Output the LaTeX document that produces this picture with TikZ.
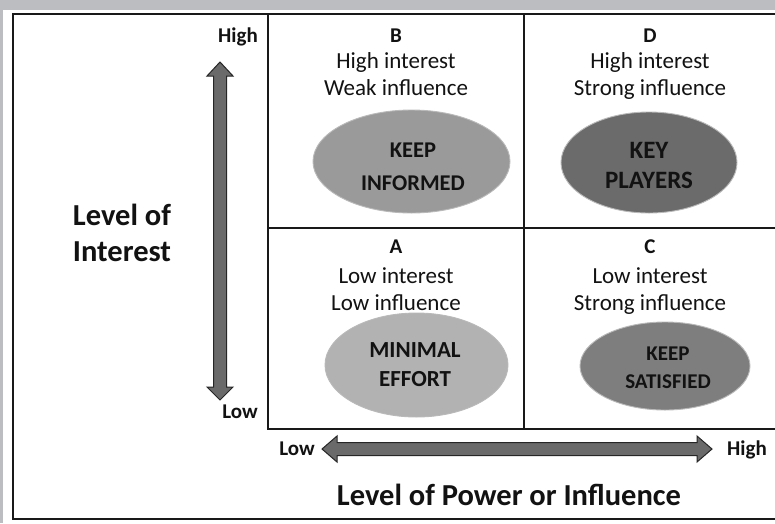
\documentclass[tikz,border=0pt]{standalone}
\usepackage{fontspec}
\setmainfont{Carlito}
\usetikzlibrary{shapes.geometric}
\definecolor{txt}{HTML}{121212}
\definecolor{frame}{HTML}{BCBDC0}
\definecolor{arrowfill}{HTML}{6A6A6A}
\definecolor{ellB}{HTML}{9A9A9A}
\definecolor{ellD}{HTML}{6B6B6B}
\definecolor{ellA}{HTML}{B2B2B2}
\definecolor{ellC}{HTML}{7E7E7E}
\begin{document}
\begin{tikzpicture}[x=1pt,y=-1pt,
  lab/.style={font=\fontsize{23}{27}\selectfont, text=txt, anchor=base, inner sep=0pt},
  blab/.style={font=\bfseries\fontsize{21}{25}\selectfont, text=txt, anchor=base, inner sep=0pt},
  big/.style={font=\bfseries\fontsize{30.5}{36}\selectfont, text=txt, anchor=base, inner sep=0pt},
  ell/.style={ellipse, draw=gray!55, line width=0.9pt, inner sep=0pt},
  etxt/.style={font=\bfseries\fontsize{#1}{#1}\selectfont, text=txt, anchor=base, inner sep=0pt},
  gridline/.style={line width=1.4pt, draw=black!90},
  arr/.style={fill=arrowfill, draw=black!85, line width=1pt, line join=miter}
]
\useasboundingbox (0,0) rectangle (775,523);
\fill[white] (0,0) rectangle (775,523);
\fill[frame] (0,0) rectangle (775,10);
\fill[frame] (0,0) rectangle (3,523);

% outer frame
\coordinate (oTR) at (776,14);
\coordinate (oTL) at (13,14);
\coordinate (oBL) at (13,519);
\coordinate (oBR) at (776,519);
\draw[gridline] (oTR) -- (oTL) -- (oBL) -- (oBR);

% grid
\coordinate (g1t) at (268,14);
\coordinate (g1b) at (268,429);
\coordinate (g2t) at (524,14);
\coordinate (g2b) at (524,429);
\coordinate (hmL) at (268,228);
\coordinate (hmR) at (776,228);
\coordinate (hbR) at (776,429);
\draw[gridline] (g1t) -- (g1b) -- (hbR);
\draw[gridline] (g2t) -- (g2b);
\draw[gridline] (hmL) -- (hmR);

% vertical double arrow
\draw[arr] (220,62) -- (233,76) -- (226.5,76) -- (226.5,387) -- (233,387) -- (220,400)
  -- (207,387) -- (213.5,387) -- (213.5,76) -- (207,76) -- cycle;
% horizontal double arrow
\draw[arr] (322,449) -- (337,436) -- (337,442.5) -- (697,442.5) -- (697,436) -- (712,449)
  -- (697,462) -- (697,455.5) -- (337,455.5) -- (337,462) -- cycle;

% axis labels
\node[blab, anchor=base east] (yhigh) at (258,42) {High};
\node[blab, anchor=base east] (ylow) at (258,418) {Low};
\node[blab, anchor=base east] (xlow) at (315,455) {Low};
\node[blab, anchor=base west] (xhigh) at (727,455) {High};
\node[big] (yt1) at (122,225) {Level of};
\node[big] (yt2) at (122,261) {Interest};
\node[big] (xt) at (509,505) {Level of Power or Influence};

% quadrant B
\node[blab] (Bt) at (396,42) {B};
\node[lab] (B1) at (396,68) {High interest};
\node[lab] (B2) at (396,95) {Weak influence};
\node[ell, fill=ellB, minimum width=197pt, minimum height=103pt] (eB) at (411.5,161.5) {};
\node[etxt=22.5] (eB1) at (413,157) {KEEP};
\node[etxt=22.5] (eB2) at (413,190) {INFORMED};

% quadrant D
\node[blab] (Dt) at (650,42) {D};
\node[lab] (D1) at (650,68) {High interest};
\node[lab] (D2) at (650,95) {Strong influence};
\node[ell, fill=ellD, minimum width=176pt, minimum height=101pt] (eD) at (649,162.5) {};
\node[etxt=25] (eD1) at (649,158) {KEY};
\node[etxt=25] (eD2) at (649,188) {PLAYERS};

% quadrant A
\node[blab] (At) at (396,253) {A};
\node[lab] (A1) at (396,283) {Low interest};
\node[lab] (A2) at (396,310) {Low influence};
\node[ell, fill=ellA, minimum width=183pt, minimum height=104pt] (eA) at (416.5,365) {};
\node[etxt=23] (eA1) at (415,357) {MINIMAL};
\node[etxt=23] (eA2) at (415,386) {EFFORT};

% quadrant C
\node[blab] (Ct) at (650,253) {C};
\node[lab] (C1) at (650,283) {Low interest};
\node[lab] (C2) at (650,310) {Strong influence};
\node[ell, fill=ellC, minimum width=170pt, minimum height=88pt] (eC) at (665,366) {};
\node[etxt=21] (eC1) at (668,360) {KEEP};
\node[etxt=21] (eC2) at (668,388) {SATISFIED};
\end{tikzpicture}
\end{document}
